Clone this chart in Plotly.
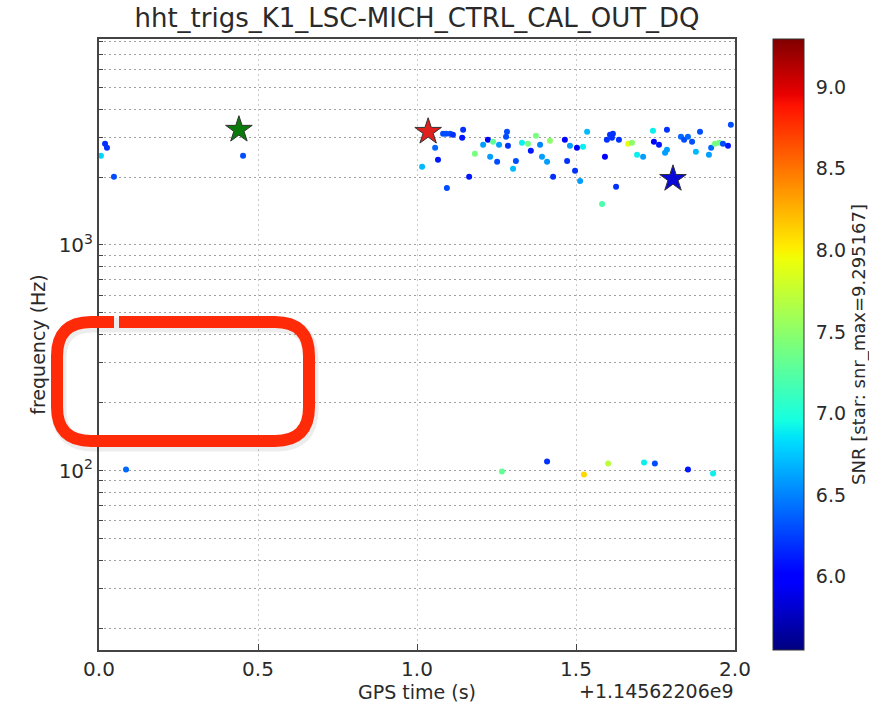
import numpy as np
import plotly.graph_objects as go

# ---------------- data ----------------
t_pts = [0.006, 0.019, 0.025, 0.047, 0.085, 0.453,
         1.016, 1.057, 1.066, 1.082, 1.091, 1.104, 1.113, 1.094, 1.145, 1.142,
         1.164, 1.182, 1.208, 1.223, 1.239, 1.258, 1.230, 1.252, 1.283, 1.280,
         1.286, 1.311, 1.302, 1.330, 1.349, 1.358, 1.374, 1.387, 1.393, 1.409,
         1.418, 1.428, 1.465, 1.472, 1.481, 1.497, 1.503, 1.513, 1.522, 1.535,
         1.582, 1.591, 1.597, 1.607, 1.616, 1.613, 1.635, 1.626, 1.664, 1.676,
         1.692, 1.711, 1.742, 1.745, 1.761, 1.786, 1.786, 1.780, 1.830, 1.840,
         1.852, 1.865, 1.877, 1.890, 1.918, 1.925, 1.937, 1.950, 1.962, 1.978,
         1.987,
         1.267, 1.409, 1.525, 1.601, 1.714, 1.748, 1.852, 1.931]
f_pts = [2488, 2811, 2698, 2005, 101, 2488,
         2223, 2698, 2388, 3113, 3113, 3113, 3083, 1791, 3245, 2990,
         2005, 2536, 2781, 2930, 2870, 2781, 2460, 2339, 3178, 3020,
         2754, 2360, 2178, 2840, 2811, 2618, 3050, 2781, 2460, 2339,
         2898, 2005, 2930, 2360, 2754, 2133, 2698, 1923, 2727, 3178,
         1521, 2460, 2930, 3083, 3113, 2990, 2930, 1811, 2811, 2840,
         2512, 2460, 3211, 2870, 2781, 3245, 2642, 2563, 3020, 2930,
         3020, 2870, 2588, 3178, 2512, 2698, 2811, 2840, 2811, 2754,
         3413,
         99, 109.6, 96, 107.4, 108.6, 107.4, 101, 97]
snr_pts = [6.8, 6.2, 6.2, 6.3, 6.4, 6.3,
           6.7, 6.4, 6.1, 6.3, 6.3, 6.3, 6.2, 6.3, 6.2, 6.1,
           6.1, 7.4, 6.6, 6.0, 7.3, 6.6, 6.6, 6.3, 6.3, 6.3,
           6.2, 6.3, 6.7, 6.9, 7.4, 6.1, 7.4, 6.5, 6.6, 6.6,
           7.5, 6.2, 6.0, 6.2, 6.6, 6.2, 6.0, 6.6, 6.9, 6.7,
           7.2, 6.0, 6.2, 6.2, 6.2, 6.2, 6.2, 6.2, 7.9, 7.5,
           6.9, 6.6, 6.9, 6.0, 6.1, 6.2, 6.6, 6.6, 6.4, 6.3,
           6.4, 6.3, 6.7, 6.3, 6.6, 6.4, 7.4, 7.4, 6.3, 6.1,
           6.3,
           7.3, 6.2, 8.1, 7.7, 6.9, 6.3, 6.1, 6.9]

star_t = [0.44, 1.035, 1.805]
star_f = [3245, 3178, 1965]
star_colors = ["#0a7a0a", "#e0201c", "#0a0ad8"]

snr_min, snr_max = 5.55, 9.295167
x_ticks = [0.0, 0.5, 1.0, 1.5, 2.0]
cb_ticks = [6.0, 6.5, 7.0, 7.5, 8.0, 8.5, 9.0]
y_range = [16, 8192]

# ---------------- styles ----------------
FONT = "DejaVu Sans"
TXT = "#2a2a2a"
W, H = 869, 705
ML, MR, MT, MB = 99, 134, 39, 55

# matplotlib "jet"
r_pts = [(0, 0), (0.35, 0), (0.66, 1), (0.89, 1), (1, 0.5)]
g_pts = [(0, 0), (0.125, 0), (0.375, 1), (0.64, 1), (0.91, 0), (1, 0)]
b_pts = [(0, 0.5), (0.11, 1), (0.34, 1), (0.65, 0), (1, 0)]
stops = sorted(set([p[0] for p in r_pts + g_pts + b_pts]))
def chan(pts, s):
    return np.interp(s, [p[0] for p in pts], [p[1] for p in pts])
jet = [[s, "rgb(%d,%d,%d)" % (round(255 * chan(r_pts, s)), round(255 * chan(g_pts, s)), round(255 * chan(b_pts, s)))]
       for s in stops]

fig = go.Figure()
fig.add_trace(go.Scatter(
    x=t_pts, y=f_pts, mode="markers",
    marker=dict(size=6, color=snr_pts, colorscale=jet, cmin=snr_min, cmax=snr_max,
                line=dict(width=0),
                colorbar=dict(
                    x=(773 - ML) / (W - ML - MR), xanchor="left", xpad=0,
                    y=0, yanchor="bottom", len=1, lenmode="fraction", ypad=0,
                    thickness=31, outlinewidth=1, outlinecolor="#333",
                    tickmode="array", tickvals=cb_ticks,
                    ticktext=["%.1f" % v for v in cb_ticks],
                    ticks="outside", ticklen=8, tickcolor="rgba(0,0,0,0)",
                    tickfont=dict(family=FONT, size=19, color=TXT),
                    title=dict(text="SNR [star: snr_max=9.295167]", side="right",
                               font=dict(family=FONT, size=18, color=TXT)),
                )),
    showlegend=False, hoverinfo="x+y",
))
fig.add_trace(go.Scatter(
    x=star_t, y=star_f, mode="markers",
    marker=dict(symbol="star", size=20, color=star_colors, line=dict(width=1, color="#333")),
    showlegend=False,
))

minor_vals = []
for dec in [10, 100, 1000]:
    for k in range(1, 10):
        v = k * dec
        if y_range[0] <= v <= y_range[1]:
            minor_vals.append(v)
ytext = ["10<sup>2</sup>" if v == 100 else ("10<sup>3</sup>" if v == 1000 else "") for v in minor_vals]

fig.update_layout(
    width=W, height=H,
    margin=dict(l=ML, r=MR, t=MT, b=MB, autoexpand=False),
    paper_bgcolor="white", plot_bgcolor="white",
    font=dict(family=FONT, color=TXT),
    title=dict(text="hht_trigs_K1_LSC-MICH_CTRL_CAL_OUT_DQ", x=417 / W, xanchor="center",
               y=1 - 18 / H, yanchor="middle", font=dict(family=FONT, size=26, color=TXT)),
    xaxis=dict(range=[0, 2], tickvals=x_ticks, ticktext=["%.1f" % v for v in x_ticks],
               ticks="inside", ticklen=6, tickcolor="#444",
               showline=True, linecolor="#444", linewidth=2, mirror=True,
               showgrid=True, gridcolor="#cacaca", griddash="2px,3px", gridwidth=1,
               zeroline=False, tickfont=dict(family=FONT, size=20, color=TXT),
               title=dict(text="GPS time (s)", font=dict(family=FONT, size=19, color=TXT), standoff=4)),
    yaxis=dict(type="log", range=[np.log10(y_range[0]), np.log10(y_range[1])],
               tickvals=minor_vals, ticktext=ytext,
               ticks="inside", ticklen=4, tickcolor="#444",
               showline=True, linecolor="#444", linewidth=2, mirror=True,
               showgrid=True, gridcolor="#a0a0a0", griddash="2px,3px", gridwidth=1,
               zeroline=False, tickfont=dict(family=FONT, size=20, color=TXT),
               title=dict(text="frequency (Hz)", font=dict(family=FONT, size=19, color=TXT), standoff=8)),
)

fig.add_annotation(text="+1.14562206e9", xref="paper", yref="paper",
                   x=(736 - ML) / (W - ML - MR), y=-(691 - (H - MB)) / (H - MT - MB),
                   xanchor="right", yanchor="middle", showarrow=False,
                   font=dict(family=FONT, size=19, color=TXT))

# hand-drawn red highlight (pixel -> paper)
def px(x):
    return (x - ML) / (W - ML - MR)
def py(y):
    return (H - MB - y) / (H - MT - MB)

def rrect(L, R, T, B, r, dx=0, dy=0, gap=True):
    L, R, T, B = L + dx, R + dx, T + dy, B + dy
    start = L + r + 28 if gap else L + r
    end = L + r + 23 if gap else L + r
    pts = [
        f"M {px(start)},{py(T)}",
        f"L {px(R - r)},{py(T)}",
        f"Q {px(R)},{py(T)} {px(R)},{py(T + r)}",
        f"L {px(R)},{py(B - r)}",
        f"Q {px(R)},{py(B)} {px(R - r)},{py(B)}",
        f"L {px(L + r)},{py(B)}",
        f"Q {px(L)},{py(B)} {px(L)},{py(B - r)}",
        f"L {px(L)},{py(T + r)}",
        f"Q {px(L)},{py(T)} {px(L + r)},{py(T)}",
        f"L {px(end)},{py(T)}",
    ]
    return " ".join(pts)

fig.add_shape(type="path", xref="paper", yref="paper", layer="above",
              path=rrect(57, 309, 322, 441, 34, dx=2, dy=3, gap=False),
              line=dict(color="rgba(0,0,0,0.07)", width=15))
fig.add_shape(type="path", xref="paper", yref="paper", layer="above",
              path=rrect(57, 309, 322, 441, 34),
              line=dict(color="#ff2a08", width=12))

fig.write_html("out.html")
